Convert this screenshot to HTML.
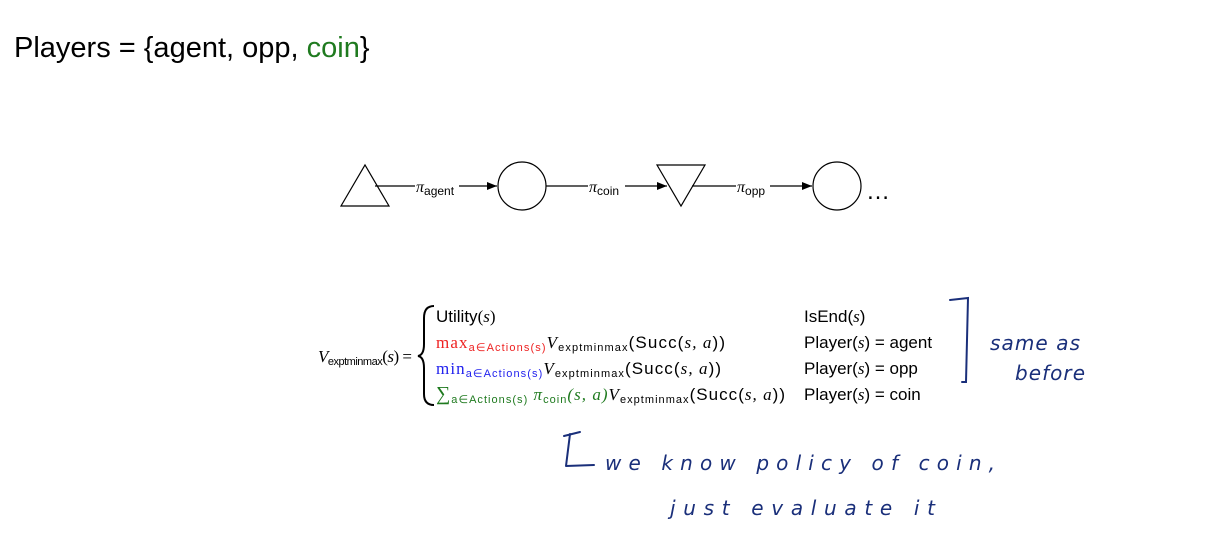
<!DOCTYPE html>
<html><head><meta charset="utf-8"><style>
body{margin:0;background:#fff;width:1207px;height:551px;overflow:hidden}
svg{display:block}
.s{font-family:"Liberation Sans",sans-serif}
.m{font-family:"Liberation Serif",serif;font-style:italic}
.r{font-family:"Liberation Serif",serif}
</style></head><body>
<svg width="1207" height="551" viewBox="0 0 1207 551">
<defs><marker id="a" markerWidth="10" markerHeight="8" refX="10" refY="4" orient="auto" markerUnits="userSpaceOnUse"><path d="M0,0 L10,4 L0,8 Z" fill="#000"/></marker></defs>
<text x="14" y="57" class="s" font-size="29">Players = {agent, opp, <tspan fill="#1f7a1f">coin</tspan>}</text>
<g fill="none" stroke="#000" stroke-width="1.2">
<path d="M341,206 L389,206 L365,165 Z"/>
<circle cx="522" cy="186" r="24"/>
<path d="M657,165 L705,165 L681,206 Z"/>
<circle cx="837" cy="186" r="24"/>
<line x1="375" y1="186" x2="415" y2="186"/><line x1="459" y1="186" x2="497" y2="186" marker-end="url(#a)"/>
<line x1="546" y1="186" x2="588" y2="186"/><line x1="625" y1="186" x2="667" y2="186" marker-end="url(#a)"/>
<line x1="692" y1="186" x2="736" y2="186"/><line x1="770" y1="186" x2="812" y2="186" marker-end="url(#a)"/>
</g>
<g font-size="16">
<text x="416" y="192" class="m">π<tspan class="s" font-style="normal" font-size="12" dy="3">agent</tspan></text>
<text x="589" y="192" class="m">π<tspan class="s" font-style="normal" font-size="12" dy="3">coin</tspan></text>
<text x="737" y="192" class="m">π<tspan class="s" font-style="normal" font-size="12" dy="3">opp</tspan></text>
</g>
<text x="866" y="199" class="s" font-size="24">…</text>
<g font-size="17">
<text x="318" y="362" class="m" textLength="94">V<tspan class="s" font-style="normal" font-size="11" dy="3">exptminmax</tspan><tspan class="r" font-style="normal" dy="-3">(</tspan>s<tspan class="r" font-style="normal">) =</tspan></text>
<path d="M434,306 Q424,306 424,318 L424,344 Q424,355 418,356 Q424,357 424,368 L424,394 Q424,405 434,405" fill="none" stroke="#000" stroke-width="2"/>
<text x="436" y="322" class="s">Utility<tspan class="r">(</tspan><tspan class="m">s</tspan><tspan class="r">)</tspan></text>
<text x="436" y="348" textLength="289"><tspan class="r" fill="#e22">max</tspan><tspan class="s" fill="#e22" font-size="11" dy="3">a∈Actions(s)</tspan><tspan class="m" dy="-3">V</tspan><tspan class="s" font-size="11" dy="3">exptminmax</tspan><tspan class="s" dy="-3">(Succ(</tspan><tspan class="m">s, a</tspan><tspan class="s">))</tspan></text>
<text x="436" y="374" textLength="285"><tspan class="r" fill="#22e">min</tspan><tspan class="s" fill="#22e" font-size="11" dy="3">a∈Actions(s)</tspan><tspan class="m" dy="-3">V</tspan><tspan class="s" font-size="11" dy="3">exptminmax</tspan><tspan class="s" dy="-3">(Succ(</tspan><tspan class="m">s, a</tspan><tspan class="s">))</tspan></text>
<text x="436" y="400" textLength="349"><tspan class="r" fill="#1f7a1f" font-size="20">∑</tspan><tspan class="s" fill="#1f7a1f" font-size="11" dy="3">a∈Actions(s)</tspan><tspan class="m" fill="#1f7a1f" dy="-3"> π</tspan><tspan class="s" fill="#1f7a1f" font-size="11" dy="3">coin</tspan><tspan class="m" fill="#1f7a1f" dy="-3">(s, a)</tspan><tspan class="m">V</tspan><tspan class="s" font-size="11" dy="3">exptminmax</tspan><tspan class="s" dy="-3">(Succ(</tspan><tspan class="m">s, a</tspan><tspan class="s">))</tspan></text>
<text x="804" y="322" class="s">IsEnd(<tspan class="m">s</tspan>)</text>
<text x="804" y="348" class="s">Player(<tspan class="m">s</tspan>) = agent</text>
<text x="804" y="374" class="s">Player(<tspan class="m">s</tspan>) = opp</text>
<text x="804" y="400" class="s">Player(<tspan class="m">s</tspan>) = coin</text>
</g>
<g fill="none" stroke="#1a2f7a" stroke-width="2" stroke-linecap="round">
<path d="M950,300 L968,298 L966,382 L962,382"/>
<path d="M570,434 L566,466 M564,436 L580,432 M566,466 L594,465"/>
</g>
<g fill="#1a2f7a" font-family="'DejaVu Sans',sans-serif" font-style="italic" font-size="20">
<text x="990" y="350" textLength="90">same  as</text>
<text x="1015" y="380" textLength="70">before</text>
<text x="605" y="470" textLength="390">we  know  policy  of  coin,</text>
<text x="670" y="515" textLength="265">just  evaluate  it</text>
</g>
</svg>
</body></html>
